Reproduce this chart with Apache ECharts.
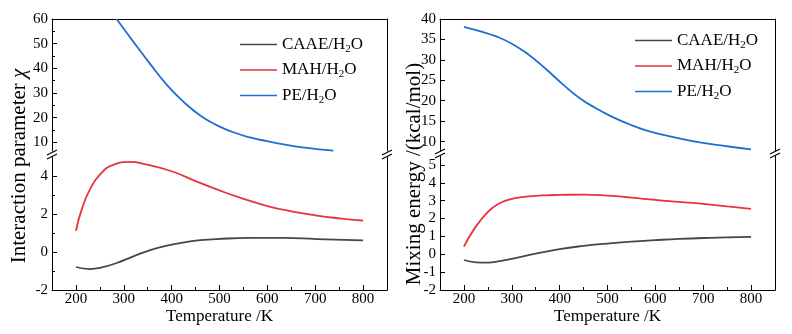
<!DOCTYPE html>
<html>
<head>
<meta charset="utf-8">
<script src="https://cdn.jsdelivr.net/npm/echarts@6/dist/echarts.min.js"></script>
<style>html,body{margin:0;padding:0;background:#fff}#chart{width:792px;height:334px}</style>
</head>
<body>
<div id="chart"></div>
<script>
// interaction parameter chi vs temperature (K)
var tChiCAAE = [200, 229, 250, 285, 320, 355, 390, 432, 460, 494, 564, 634, 703, 800];
var chiCAAE = [-0.79, -0.9, -0.84, -0.58, -0.23, 0.1, 0.34, 0.53, 0.62, 0.68, 0.74, 0.74, 0.68, 0.61];
var tChiMAH = [200, 212, 229, 250, 278, 313, 348, 400, 450, 500, 550, 600, 650, 700, 750, 800];
var chiMAH = [1.12, 2.23, 3.28, 4.07, 4.59, 4.74, 4.6, 4.25, 3.73, 3.24, 2.8, 2.42, 2.14, 1.93, 1.77, 1.65];
var tChiPE = [285, 320, 355, 390, 424, 459, 494, 529, 564, 599, 634, 669, 703, 738];
var chiPE = [60, 50.8, 41.8, 33.3, 26.6, 21.0, 17.0, 14.1, 12.0, 10.5, 9.2, 8.1, 7.3, 6.65];

// mixing energy (kcal/mol) vs temperature (K)
var tMixCAAE = [200, 225, 250, 275, 300, 350, 400, 450, 500, 550, 600, 650, 700, 750, 800];
var mixCAAE = [-0.32, -0.45, -0.47, -0.39, -0.26, 0.03, 0.29, 0.47, 0.6, 0.71, 0.79, 0.86, 0.91, 0.94, 0.97];
var tMixMAH = [200, 224, 252, 270, 287, 310, 336, 370, 400, 450, 500, 550, 600, 650, 700, 750, 800];
var mixMAH = [0.43, 1.52, 2.42, 2.78, 3.0, 3.15, 3.24, 3.3, 3.32, 3.34, 3.28, 3.17, 3.04, 2.93, 2.82, 2.68, 2.54];
var tMixPE = [200, 231, 266, 301, 336, 370, 405, 440, 475, 509, 544, 579, 614, 683, 753, 800];
var mixPE = [38.1, 37.1, 35.8, 33.9, 31.2, 27.9, 24.2, 20.8, 18.2, 16.1, 14.3, 12.8, 11.7, 10.0, 8.8, 8.1];

// tick labels
var xTicks = [200, 300, 400, 500, 600, 700, 800];
var xMinor = [250, 350, 450, 550, 650, 750];
var chiTopTicks = [10, 20, 30, 40, 50, 60];
var chiTopMinor = [15, 25, 35, 45, 55];
var chiLowTicks = [-2, 0, 2, 4];
var chiLowMinor = [-1, 1, 3];
var mixTopTicks = [10, 15, 20, 25, 30, 35, 40];
var mixLowTicks = [-2, -1, 0, 1, 2, 3, 4, 5];

var names = ['CAAE/H2O', 'MAH/H2O', 'PE/H2O'];
var colors = ['#474747', '#e8333d', '#1d6fd1'];
var font = 'Liberation Serif';

function pairs(xs, ys) {
    return xs.map(function (x, i) { return [x, ys[i]]; });
}

var chart = echarts.init(document.getElementById('chart'));

var grids = [
    {left: 52, top: 19, width: 335, height: 132},
    {left: 52, top: 157, width: 335, height: 133},
    {left: 440, top: 19, width: 335, height: 132},
    {left: 440, top: 156, width: 335, height: 134}
];

function lineAxis(g, pos, min, max) {
    return {
        gridIndex: g, type: 'value', position: pos, min: min, max: max,
        axisLine: {show: true, onZero: false, lineStyle: {color: '#000', width: 1}},
        axisTick: {show: false}, axisLabel: {show: false}, splitLine: {show: false}
    };
}

function tickAxis(g, pos, min, max, ticks, len) {
    return {
        gridIndex: g, type: 'value', position: pos, min: min, max: max,
        axisLine: {show: false, onZero: false},
        axisTick: {show: true, inside: true, length: len, customValues: ticks, lineStyle: {color: '#000'}},
        axisLabel: {show: false}, splitLine: {show: false}
    };
}

function mainAxis(g, pos, min, max, ticks, margin) {
    return {
        gridIndex: g, type: 'value', position: pos, min: min, max: max,
        axisLine: {show: true, onZero: false, lineStyle: {color: '#000', width: 1}},
        axisTick: {show: true, inside: true, length: 5, customValues: ticks, lineStyle: {color: '#000'}},
        axisLabel: {customValues: ticks, color: '#000', fontFamily: font, fontSize: 15, margin: margin},
        splitLine: {show: false}
    };
}

var xBottomL = mainAxis(1, 'bottom', 150, 850, xTicks, 2);
var xBottomR = mainAxis(3, 'bottom', 150, 850, xTicks, 2);
[xBottomL, xBottomR].forEach(function (a) {
    a.name = 'Temperature /K';
    a.nameLocation = 'middle';
    a.nameGap = 17;
    a.nameTextStyle = {color: '#000', fontFamily: font, fontSize: 17};
});

var xAxes = [
    lineAxis(0, 'top', 150, 850),                // 0
    xBottomL,                                    // 1
    tickAxis(1, 'bottom', 150, 850, xMinor, 3),  // 2
    lineAxis(2, 'top', 150, 850),                // 3
    xBottomR,                                    // 4
    tickAxis(3, 'bottom', 150, 850, xMinor, 3)   // 5
];

var yAxes = [
    mainAxis(0, 'left', 6.5, 60, chiTopTicks, 4),     // 0
    tickAxis(0, 'left', 6.5, 60, chiTopMinor, 3),     // 1
    lineAxis(0, 'right', 0, 1),                       // 2
    mainAxis(1, 'left', -2, 5, chiLowTicks, 4),       // 3
    tickAxis(1, 'left', -2, 5, chiLowMinor, 3),       // 4
    lineAxis(1, 'right', 0, 1),                       // 5
    mainAxis(2, 'left', 7.7, 40, mixTopTicks, 4),     // 6
    lineAxis(2, 'right', 0, 1),                       // 7
    mainAxis(3, 'left', -2, 5.5, mixLowTicks, 4),     // 8
    lineAxis(3, 'right', 0, 1)                        // 9
];

function lineSeries(name, data, xi, yi, color) {
    return {
        name: name, type: 'line', xAxisIndex: xi, yAxisIndex: yi,
        data: data, smooth: 0.5, symbol: 'none', clip: true,
        lineStyle: {color: color, width: 1.8}, itemStyle: {color: color}
    };
}

var series = [
    lineSeries(names[0], pairs(tChiCAAE, chiCAAE), 1, 3, colors[0]),
    lineSeries(names[1], pairs(tChiMAH, chiMAH), 1, 3, colors[1]),
    lineSeries(names[2], pairs(tChiPE, chiPE), 0, 0, colors[2]),
    lineSeries(names[0], pairs(tMixCAAE, mixCAAE), 4, 8, colors[0]),
    lineSeries(names[1], pairs(tMixMAH, mixMAH), 4, 8, colors[1]),
    lineSeries(names[2], pairs(tMixPE, mixPE), 3, 6, colors[2])
];

function legendAt(left, top) {
    return {
        orient: 'vertical', left: left, top: top, padding: 0,
        icon: 'rect', itemWidth: 37, itemHeight: 1.6, itemGap: 7,
        data: names,
        formatter: function (n) {
            return '{n|' + n.replace('H2O', 'H') + '}{s|2}{n|O}';
        },
        textStyle: {
            color: '#000', fontFamily: font, fontSize: 17,
            rich: {
                n: {fontFamily: font, fontSize: 17, color: '#000'},
                s: {fontFamily: font, fontSize: 11, color: '#000', padding: [9, 0, 0, 0]}
            }
        }
    };
}

// break marks on the axes
function breakMarks(x, y) {
    var out = [];
    [0, 4].forEach(function (d) {
        out.push({
            type: 'line', silent: true,
            shape: {x1: x - 5, y1: y + d + 2.5, x2: x + 5, y2: y + d - 2.5},
            style: {stroke: '#000', lineWidth: 1.1}
        });
    });
    return out;
}

var graphics = []
    .concat(breakMarks(52, 152.5), breakMarks(387, 152.5))
    .concat(breakMarks(440, 151.5), breakMarks(775, 151.5));

graphics.push({
    type: 'text', x: 19, y: 166, rotation: Math.PI / 2,
    style: {
        text: '{a|Interaction parameter }{i|χ}',
        align: 'center', verticalAlign: 'middle',
        rich: {
            a: {fontFamily: font, fontSize: 21, fill: '#000'},
            i: {fontFamily: font, fontSize: 21, fontStyle: 'italic', fill: '#000'}
        }
    }
});
graphics.push({
    type: 'text', x: 414, y: 174, rotation: Math.PI / 2,
    style: {
        text: 'Mixing energy /(kcal/mol)',
        align: 'center', verticalAlign: 'middle',
        fontFamily: font, fontSize: 21, fill: '#000'
    }
});

var option = {
    backgroundColor: '#fff',
    animation: false,
    grid: grids,
    xAxis: xAxes,
    yAxis: yAxes,
    legend: [legendAt(240, 36), legendAt(635, 32)],
    series: series,
    graphic: graphics
};

chart.setOption(option);
</script>
</body>
</html>
